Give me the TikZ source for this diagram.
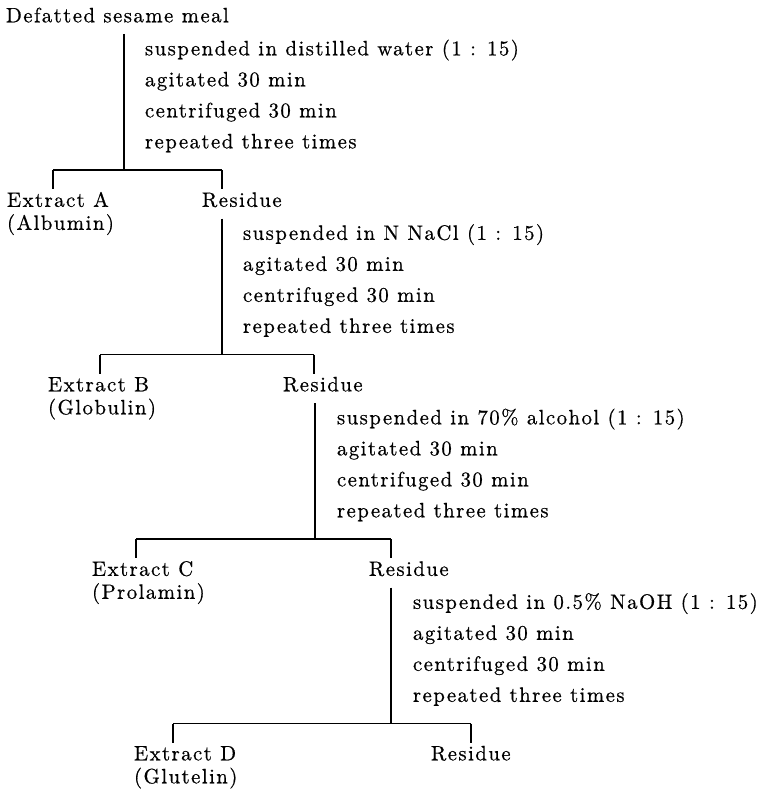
\documentclass[tikz,border=0pt]{standalone}
\usepackage{fontspec}
\setmainfont{lmroman10-regular.otf}[LetterSpace=7,FakeBold=0.6]
\begin{document}
\begin{tikzpicture}[x=1pt,y=-1pt,
  lbl/.style={anchor=base west,inner sep=0pt,outer sep=0pt,font=\fontsize{20.8}{23}\selectfont},
  ln/.style={line width=1.1pt,black,line cap=butt}]
\useasboundingbox (0,0) rectangle (766,789);
% ---------- block 1 ----------
\node[lbl] (start) at (6,22.3) {Defatted sesame meal};
\node[lbl] (s1a) at (145,55.3) {suspended in distilled water (1 : 15)};
\node[lbl] (s1b) at (145,86.3) {agitated 30 min};
\node[lbl] (s1c) at (145,117.3) {centrifuged 30 min};
\node[lbl] (s1d) at (145,148.3) {repeated three times};
\coordinate (v1t) at (124,34);
\coordinate (v1b) at (124,170);
\coordinate (h1l) at (53,170);
\coordinate (h1r) at (222,170);
\coordinate (t1l) at (53,189);
\coordinate (t1r) at (222,189);
\draw[ln] (v1t) -- (v1b);
\draw[ln] (h1l) -- (h1r);
\draw[ln] (h1l) -- (t1l);
\draw[ln] (h1r) -- (t1r);
\node[lbl] (exA) at (7,206.8) {Extract A};
\node[lbl] (exAn) at (7,229.8) {(Albumin)};
\node[lbl] (res1) at (202,206.8) {Residue};
% ---------- block 2 ----------
\node[lbl] (s2a) at (243,239.8) {suspended in N NaCl (1 : 15)};
\node[lbl] (s2b) at (243,270.8) {agitated 30 min};
\node[lbl] (s2c) at (243,301.8) {centrifuged 30 min};
\node[lbl] (s2d) at (243,332.8) {repeated three times};
\coordinate (v2t) at (222,218.5);
\coordinate (v2b) at (222,354.5);
\coordinate (h2l) at (100,354.5);
\coordinate (h2r) at (314,354.5);
\coordinate (t2l) at (100,373.5);
\coordinate (t2r) at (314,373.5);
\draw[ln] (v2t) -- (v2b);
\draw[ln] (h2l) -- (h2r);
\draw[ln] (h2l) -- (t2l);
\draw[ln] (h2r) -- (t2r);
\node[lbl] (exB) at (48,391.3) {Extract B};
\node[lbl] (exBn) at (48,414.3) {(Globulin)};
\node[lbl] (res2) at (283,391.3) {Residue};
% ---------- block 3 ----------
\node[lbl] (s3a) at (337,424.3) {suspended in 70\% alcohol (1 : 15)};
\node[lbl] (s3b) at (337,455.3) {agitated 30 min};
\node[lbl] (s3c) at (337,486.3) {centrifuged 30 min};
\node[lbl] (s3d) at (337,517.3) {repeated three times};
\coordinate (v3t) at (315,403);
\coordinate (v3b) at (315,539);
\coordinate (h3l) at (136,539);
\coordinate (h3r) at (391,539);
\coordinate (t3l) at (136,558);
\coordinate (t3r) at (391,558);
\draw[ln] (v3t) -- (v3b);
\draw[ln] (h3l) -- (h3r);
\draw[ln] (h3l) -- (t3l);
\draw[ln] (h3r) -- (t3r);
\node[lbl] (exC) at (92,575.8) {Extract C};
\node[lbl] (exCn) at (92,598.8) {(Prolamin)};
\node[lbl] (res3) at (369,575.8) {Residue};
% ---------- block 4 ----------
\node[lbl] (s4a) at (413,608.8) {suspended in 0.5\% NaOH (1 : 15)};
\node[lbl] (s4b) at (413,639.8) {agitated 30 min};
\node[lbl] (s4c) at (413,670.8) {centrifuged 30 min};
\node[lbl] (s4d) at (413,701.8) {repeated three times};
\coordinate (v4t) at (391,587.5);
\coordinate (v4b) at (391,723.5);
\coordinate (h4l) at (173,723.5);
\coordinate (h4r) at (471,723.5);
\coordinate (t4l) at (173,742.5);
\coordinate (t4r) at (471,742.5);
\draw[ln] (v4t) -- (v4b);
\draw[ln] (h4l) -- (h4r);
\draw[ln] (h4l) -- (t4l);
\draw[ln] (h4r) -- (t4r);
\node[lbl] (exD) at (134,760.3) {Extract D};
\node[lbl] (exDn) at (134,783.3) {(Glutelin)};
\node[lbl] (res4) at (431,760.3) {Residue};
\end{tikzpicture}
\end{document}
